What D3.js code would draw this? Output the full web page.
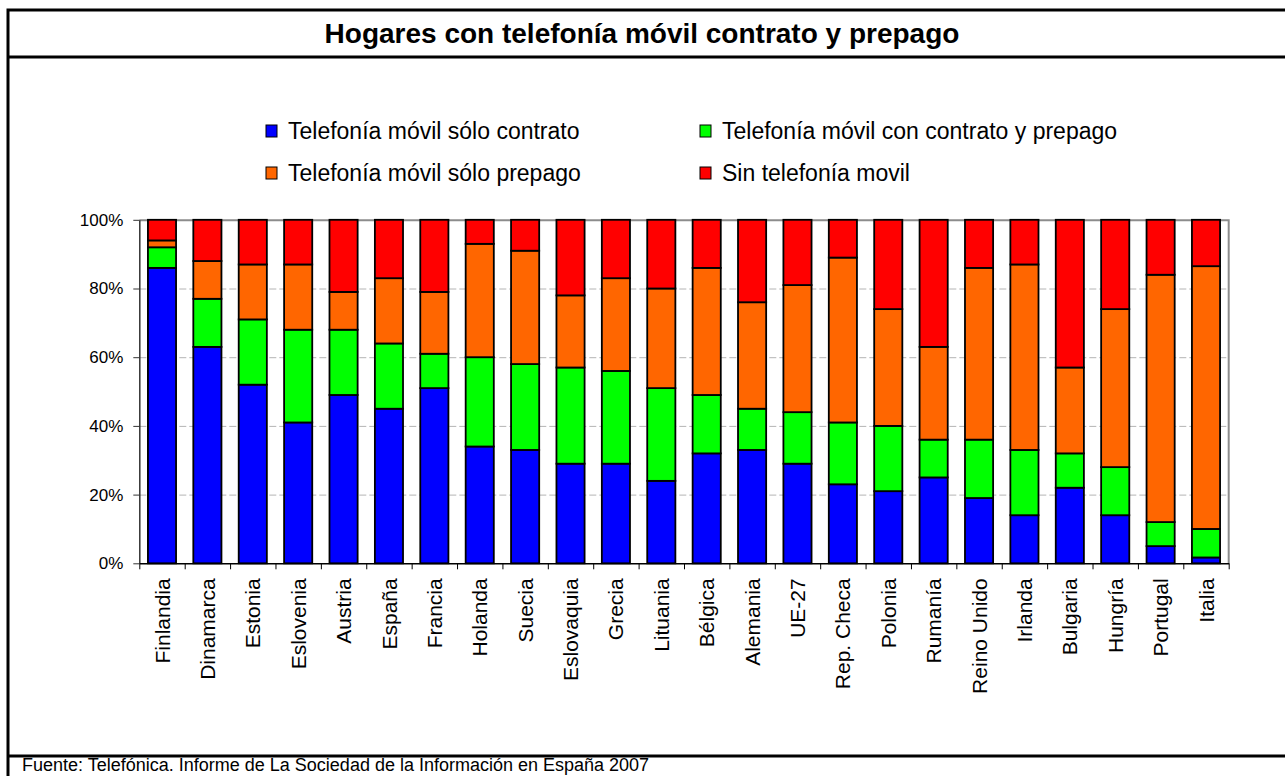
<!DOCTYPE html>
<html>
<head>
<meta charset="utf-8">
<script src="https://cdn.jsdelivr.net/npm/d3@7"></script>
<style>
  body { margin: 0; background: #fff; }
  svg { font-family: 'Liberation Sans', Arial, sans-serif; }
</style>
</head>
<body>
<div id="chart"></div>
<script>
const categories = ['Finlandia', 'Dinamarca', 'Estonia', 'Eslovenia', 'Austria', 'España', 'Francia',
  'Holanda', 'Suecia', 'Eslovaquia', 'Grecia', 'Lituania', 'Bélgica', 'Alemania', 'UE-27',
  'Rep. Checa', 'Polonia', 'Rumanía', 'Reino Unido', 'Irlanda', 'Bulgaria', 'Hungría', 'Portugal', 'Italia'];

const soloContrato    = [86, 63, 52, 41, 49, 45, 51, 34, 33, 29, 29, 24, 32, 33, 29, 23, 21, 25, 19, 14, 22, 14, 5, 1.7];
const contratoPrepago = [6, 14, 19, 27, 19, 19, 10, 26, 25, 28, 27, 27, 17, 12, 15, 18, 19, 11, 17, 19, 10, 14, 7, 8.3];
const soloPrepago     = [2, 11, 16, 19, 11, 19, 18, 33, 33, 21, 27, 29, 37, 31, 37, 48, 34, 27, 50, 54, 25, 46, 72, 76.5];
const sinMovil        = [6, 12, 13, 13, 21, 17, 21, 7, 9, 22, 17, 20, 14, 24, 19, 11, 26, 37, 14, 13, 43, 26, 16, 13.5];

const seriesNames = ['Telefonía móvil sólo contrato', 'Telefonía móvil con contrato y prepago',
  'Telefonía móvil sólo prepago', 'Sin telefonía movil'];
const seriesColors = ['#0000ff', '#00ff00', '#ff6600', '#ff0000'];
const yTicks = [0, 20, 40, 60, 80, 100];

const W = 1285, H = 776;
const margin = { top: 219.8, left: 139.3, right: W - 1228.7, bottom: H - 563.3 };
const width = W - margin.left - margin.right;
const height = H - margin.top - margin.bottom;

const svg = d3.select('#chart').append('svg')
  .attr('width', W)
  .attr('height', H);

// frame
svg.append('path')
  .attr('d', `M${W},10 H8 V${H}`)
  .attr('fill', 'none').attr('stroke', '#000').attr('stroke-width', 3);
svg.append('line').attr('x1', 8).attr('x2', W).attr('y1', 57).attr('y2', 57)
  .attr('stroke', '#000').attr('stroke-width', 3);
svg.append('line').attr('x1', 8).attr('x2', W).attr('y1', 756).attr('y2', 756)
  .attr('stroke', '#000').attr('stroke-width', 3);

svg.append('text')
  .attr('x', 642).attr('y', 43)
  .attr('text-anchor', 'middle')
  .style('font-size', '28px').style('font-weight', 'bold')
  .text('Hogares con telefonía móvil contrato y prepago');

svg.append('text')
  .attr('x', 22).attr('y', 771)
  .style('font-size', '18px')
  .text('Fuente: Telefónica. Informe de La Sociedad de la Información en España 2007');

// legend
const legendPos = [[266, 131], [700, 131], [266, 173], [700, 173]];
const legend = svg.append('g').attr('class', 'legend');
seriesNames.forEach((name, i) => {
  const g = legend.append('g').attr('transform', `translate(${legendPos[i][0]}, ${legendPos[i][1]})`);
  g.append('rect')
    .attr('x', 0).attr('y', -6).attr('width', 11).attr('height', 12)
    .attr('fill', seriesColors[i]).attr('stroke', '#000').attr('stroke-width', 1);
  g.append('text')
    .attr('x', 22).attr('y', 0).attr('dy', '0.36em')
    .style('font-size', '23px')
    .text(name);
});

const chart = svg.append('g')
  .attr('transform', `translate(${margin.left}, ${margin.top})`);

const xScale = d3.scaleBand().domain(categories).range([0, width])
  .paddingInner(0.38).paddingOuter(0.19);
const yScale = d3.scaleLinear().domain([0, 100]).range([height, 0]);

// gridlines
chart.append('g')
  .attr('class', 'grid')
  .call(d3.axisLeft(yScale).tickValues([20, 40, 60, 80]).tickSize(-width).tickFormat(''))
  .call(g => g.select('.domain').remove())
  .call(g => g.selectAll('line').attr('stroke', '#b4b4b4').attr('stroke-dasharray', '7,3'));

// plot border top/right
chart.append('path')
  .attr('d', `M0,0.5 H${width} V${height}`)
  .attr('fill', 'none').attr('stroke', '#8c8c8c').attr('stroke-width', 2);

const table = categories.map((c, i) => ({
  cat: c, a: soloContrato[i], b: contratoPrepago[i], c: soloPrepago[i], d: sinMovil[i]
}));
const stack = d3.stack().keys(['a', 'b', 'c', 'd'])(table);

chart.selectAll('.serie')
  .data(stack)
  .enter().append('g')
  .attr('class', 'serie')
  .attr('fill', (d, i) => seriesColors[i])
  .selectAll('rect')
  .data(d => d)
  .enter().append('rect')
  .attr('x', d => xScale(d.data.cat))
  .attr('y', d => yScale(d[1]))
  .attr('width', xScale.bandwidth())
  .attr('height', d => yScale(d[0]) - yScale(d[1]))
  .attr('stroke', '#000')
  .attr('stroke-width', 1.8);

// y axis
const yAxis = chart.append('g')
  .attr('class', 'axis axis-y')
  .call(d3.axisLeft(yScale).tickValues(yTicks).tickFormat(d => d + '%').tickSize(6).tickSizeOuter(0));
yAxis.select('.domain').attr('stroke', '#333').attr('stroke-width', 1.5);
yAxis.selectAll('text').style('font-size', '17px').attr('fill', '#000').attr('x', -16);
yAxis.selectAll('line').attr('stroke', '#333');

// x axis: tick marks at band boundaries
const bounds = d3.scaleLinear().domain([0, categories.length]).range([0, width]);
const xTicks = chart.append('g')
  .attr('class', 'axis axis-x')
  .attr('transform', `translate(0, ${height})`)
  .call(d3.axisBottom(bounds).tickValues(d3.range(categories.length + 1))
    .tickFormat('').tickSize(6).tickSizeOuter(0));
xTicks.select('.domain').attr('stroke', '#000').attr('stroke-width', 1.5);
xTicks.selectAll('line').attr('stroke', '#000');

// x labels
const xLabels = chart.append('g')
  .attr('transform', `translate(0, ${height})`)
  .call(d3.axisBottom(xScale).tickSize(0));
xLabels.select('.domain').remove();
xLabels.selectAll('text')
  .style('font-size', '21px')
  .attr('fill', '#000')
  .attr('text-anchor', 'end')
  .attr('transform', 'rotate(-90)')
  .attr('x', -15)
  .attr('y', 0)
  .attr('dy', '0.36em');
</script>
</body>
</html>
